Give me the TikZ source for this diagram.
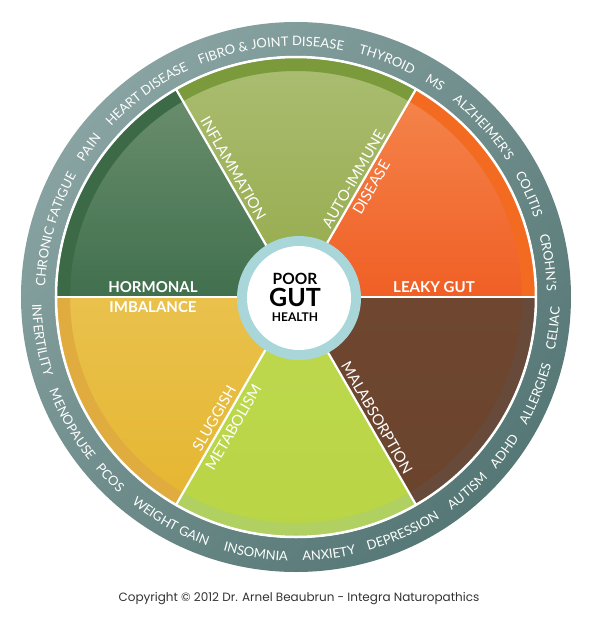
\documentclass[tikz,border=0pt]{standalone}
\usepackage{fontspec}
\usetikzlibrary{calc,decorations.text}
\newfontfamily\copyfont{Poppins}
\newfontfamily\optima{Lato}
\newcommand{\ringfont}{\optima\fontsize{13}{13}\selectfont\color{white}}
\definecolor{ringlight}{HTML}{88A3A2}
\definecolor{ringdark}{HTML}{557775}
\definecolor{gutblue}{HTML}{A8D6D9}
\definecolor{copygray}{HTML}{333333}
\definecolor{hormtop}{HTML}{6A8E6D}
\definecolor{hormbot}{HTML}{41704E}
\definecolor{hormband}{HTML}{3C6946}
\definecolor{inftop}{HTML}{ABBE74}
\definecolor{infbot}{HTML}{95AA4A}
\definecolor{infband}{HTML}{7A9A3C}
\definecolor{leaktop}{HTML}{F4854C}
\definecolor{leakbot}{HTML}{F05F25}
\definecolor{leakband}{HTML}{F26B21}
\definecolor{maltop}{HTML}{6F4731}
\definecolor{malbot}{HTML}{6B442E}
\definecolor{malband}{HTML}{684A3A}
\definecolor{mettop}{HTML}{BDD84E}
\definecolor{metbot}{HTML}{B9D545}
\definecolor{metband}{HTML}{B0D062}
\definecolor{slugtop}{HTML}{E9C14C}
\definecolor{slugbot}{HTML}{E5B631}
\definecolor{slugband}{HTML}{E0AC40}
\begin{document}
\begin{tikzpicture}[x=1pt,y=1pt,
    seglabel/.style={text=white,inner sep=0pt,font=\optima\fontsize{15}{15}\selectfont},
    seghead/.style={seglabel,font=\optima\bfseries\fontsize{15}{15}\selectfont},
    gutword/.style={inner sep=0pt,anchor=base}]
  \useasboundingbox (-296,-322) rectangle (301,297);
  % outer ring
  \shade[even odd rule,top color=ringlight,bottom color=ringdark,shading angle=45]
    (0,0) circle (275) (0,0) circle (241);
  % six wedges with their darker rim
  \foreach \s/\ctop/\cbot/\cband in {0/leaktop/leakbot/leakband,60/inftop/infbot/infband,
      120/hormtop/hormbot/hormband,180/slugtop/slugbot/slugband,
      240/mettop/metbot/metband,300/maltop/malbot/malband}{
    \shade[top color=\ctop,bottom color=\cbot] (0,0) -- (\s:239) arc[start angle=\s,delta angle=60,radius=239] -- cycle;
    \draw[\cband,line width=13] (\s:232.5) arc[start angle=\s,delta angle=60,radius=232.5];
  }
  \foreach \a in {0,60,...,300}
    \draw[white,line width=2.2] (0,0) -- (\a:240);
  \draw[white,line width=2.5] (0,0) circle (240);
  % words round the ring
  \foreach \a/\w in {164.3/CHRONIC FATIGUE,144.2/PAIN,126.3/HEART DISEASE,95.8/FIBRO {\&} JOINT DISEASE,
      69/THYROID,57/MS,42.1/ALZHEIMER’S,23.8/COLITIS,7.8/CROHN’S}
    \path[decorate,decoration={text along path,text align=center,text/.expanded={|\noexpand\ringfont|\w}}]
      (\a+30:251) arc[start angle=\a+30,end angle=\a-30,radius=251];
  \foreach \a/\w in {189.6/INFERTILITY,209.6/MENOPAUSE,224.2/PCOS,240.9/WEIGHT GAIN,261.1/INSOMNIA,
      277.3/ANXIETY,294.5/DEPRESSION,311.4/AUTISM,323.5/ADHD,338/ALLERGIES,353.1/CELIAC}
    \path[decorate,decoration={text along path,text align=center,text/.expanded={|\noexpand\ringfont|\w}}]
      (\a-30:264) arc[start angle=\a-30,end angle=\a+30,radius=264];
  % hub
  \fill[gutblue] (3,-1) circle (62);
  \fill[white] (3,-1) circle (52);
  \node[gutword,font=\optima\bfseries\fontsize{15.5}{15.5}\selectfont] (poor) at (-1,12.7) {POOR};
  \node[gutword,font=\optima\bfseries\fontsize{25}{25}\selectfont] (gut) at (-1,-9.7) {GUT};
  \node[gutword,font=\optima\bfseries\fontsize{12}{12}\selectfont] (health) at (-1,-24.7) {HEALTH};
  % wedge labels
  \node[seghead] (hormonal) at (-143,10.3) {HORMONAL};
  \node[seghead] (imbalance) at (-143,-10) {IMBALANCE};
  \node[seghead] (leaky) at (138,10.3) {LEAKY GUT};
  \node[seglabel,rotate=-60] (inflam) at (-62.7,128.7) {INFLAMMATION};
  \node[seglabel,rotate=60] (autoimm) at (57.5,118) {AUTO-IMMUNE};
  \node[seglabel,rotate=60] (disease) at (75.2,109.5) {DISEASE};
  \node[seglabel,rotate=60] (sluggish) at (-81.8,-121.3) {SLUGGISH};
  \node[seglabel,rotate=60] (metab) at (-62.7,-130.5) {METABOLISM};
  \node[seglabel,rotate=-60] (malab) at (81,-120.5) {MALABSORPTION};
  \node[anchor=base,inner sep=0pt,text=copygray,font=\copyfont\fontsize{12}{12}\selectfont] (copyline) at (3,-304)
    {Copyright © 2012 Dr. Arnel Beaubrun - Integra Naturopathics};
\end{tikzpicture}
\end{document}
